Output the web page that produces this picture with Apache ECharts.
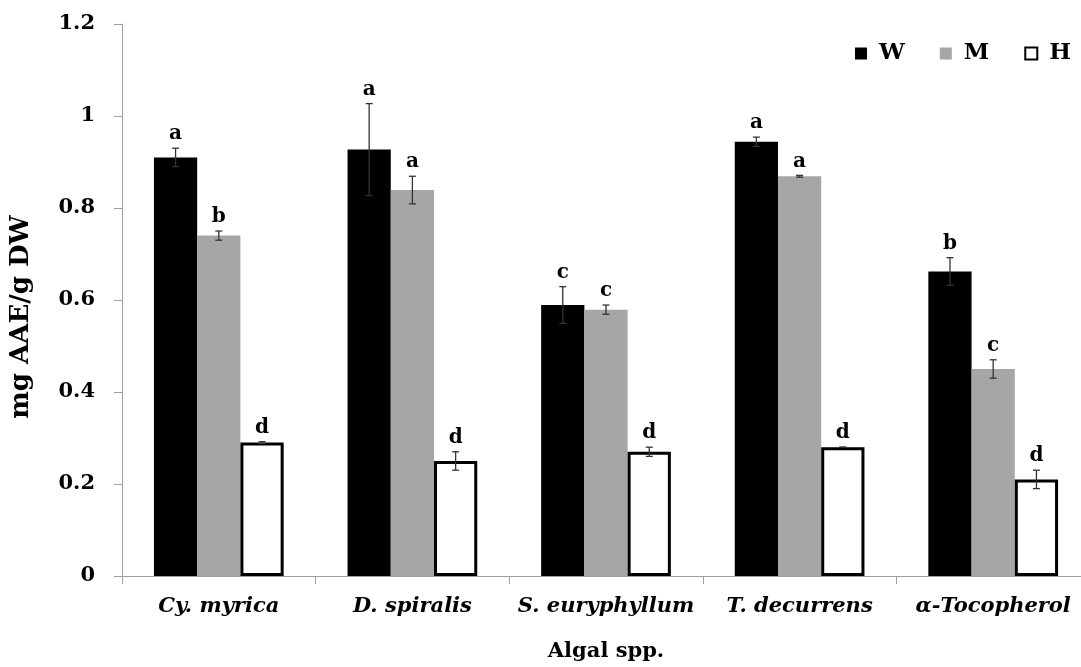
<!DOCTYPE html>
<html><head><meta charset="utf-8">
<script src="https://cdn.jsdelivr.net/npm/echarts@6/dist/echarts.min.js"></script>
<style>html,body{margin:0;padding:0;background:#fff}#c{width:1081px;height:667px}</style>
</head><body><div id="c"></div>
<script>
const categories = ['Cy. myrica', 'D. spiralis', 'S. euryphyllum', 'T. decurrens', 'α-Tocopherol'];
const seriesNames = ['W', 'M', 'H'];
const valuesW = [0.91, 0.927, 0.589, 0.944, 0.662];
const valuesM = [0.74, 0.839, 0.579, 0.869, 0.45];
const valuesH = [0.29, 0.25, 0.27, 0.28, 0.21];
const errW = [0.02, 0.10, 0.04, 0.01, 0.03];
const errM = [0.01, 0.03, 0.01, 0.002, 0.02];
const errH = [0.002, 0.02, 0.01, 0.0, 0.02];
const lettersW = ['a', 'a', 'c', 'a', 'b'];
const lettersM = ['b', 'a', 'c', 'a', 'c'];
const lettersH = ['d', 'd', 'd', 'd', 'd'];
const yTicks = [0, 0.2, 0.4, 0.6, 0.8, 1, 1.2];

const FONT = '"DejaVu Serif", "Liberation Serif", serif';
const GAP = 0.33;
const values = [valuesW, valuesM, valuesH];
const errs = [errW, errM, errH];
const letters = [lettersW, lettersM, lettersH];
const styles = [
  {color: '#000000'},
  {color: '#a6a6a6'},
  {color: '#ffffff', borderColor: '#000000', borderWidth: 3}
];

const series = [];
seriesNames.forEach((n, k) => {
  series.push({
    name: n, type: 'bar', data: values[k], barGap: '0%', barCategoryGap: (GAP*100)+'%',
    itemStyle: styles[k], emphasis: {disabled: true}
  });
});
seriesNames.forEach((n, k) => {
  series.push({
    type: 'custom', silent: true, z: 5,
    data: categories.map((c, i) => [i, values[k][i], errs[k][i]]),
    renderItem: function(params, api) {
      const i = api.value(0), v = api.value(1), e = api.value(2);
      const letter = letters[k][i];
      const band = api.size([1, 0])[0];
      const bw = band * (1 - GAP) / 3;
      const cx = api.coord([i, v])[0] + (k - 1) * bw;
      const yt = api.coord([i, v + e])[1];
      const yb = api.coord([i, v - e])[1];
      const cap = 3.5;
      const ls = {stroke: '#333', lineWidth: 1.3};
      return {type: 'group', children: [
        {type: 'line', shape: {x1: cx, y1: yt, x2: cx, y2: yb}, style: ls},
        {type: 'line', shape: {x1: cx - cap, y1: yt, x2: cx + cap, y2: yt}, style: ls},
        {type: 'line', shape: {x1: cx - cap, y1: yb, x2: cx + cap, y2: yb}, style: ls},
        {type: 'text', x: cx, y: yt - 4, style: {text: letter, font: 'bold 20px ' + FONT, fill: '#000', align: 'center', verticalAlign: 'bottom'}}
      ]};
    }
  });
});

const chart = echarts.init(document.getElementById('c'), null, {renderer: 'canvas'});
chart.setOption({
  animation: false,
  backgroundColor: '#fff',
  textStyle: {fontFamily: FONT},
  legend: {
    data: seriesNames, right: 5, top: 37, itemWidth: 12, itemHeight: 12, itemGap: 35, icon: 'rect',
    textStyle: {fontFamily: FONT, fontWeight: 'bold', fontSize: 23, color: '#000', padding: [0, 0, 0, 7]}
  },
  grid: {left: 122, right: -9, top: 24, bottom: 91, outerBoundsMode: 'none', containLabel: false},
  xAxis: {
    type: 'category', data: categories,
    axisLine: {lineStyle: {color: '#a0a0a0', width: 1}},
    axisTick: {show: true, length: 8, lineStyle: {color: '#a0a0a0'}},
    axisLabel: {fontFamily: FONT, fontWeight: 'bold', fontStyle: 'italic', fontSize: 21, color: '#000', margin: 20, interval: 0},
    name: 'Algal spp.', nameLocation: 'middle', nameGap: 65,
    nameTextStyle: {fontFamily: FONT, fontWeight: 'bold', fontSize: 21, color: '#000'}
  },
  yAxis: {
    type: 'value', min: 0, max: 1.2, interval: 0.2,
    splitLine: {show: false},
    axisLine: {show: true, lineStyle: {color: '#a0a0a0', width: 1}},
    axisTick: {show: true, length: 8, lineStyle: {color: '#a0a0a0'}},
    axisLabel: {fontFamily: FONT, fontWeight: 'bold', fontSize: 21, color: '#000', margin: 27,
      formatter: v => { const t = yTicks.find(x => Math.abs(x - v) < 1e-9); return String(t !== undefined ? t : v); }},
    name: 'mg AAE/g DW', nameLocation: 'middle', nameGap: 88, nameRotate: 90,
    nameTextStyle: {fontFamily: FONT, fontWeight: 'bold', fontSize: 26, color: '#000', padding: [0, 34, 0, 0]}
  },
  series: series
});
</script></body></html>
